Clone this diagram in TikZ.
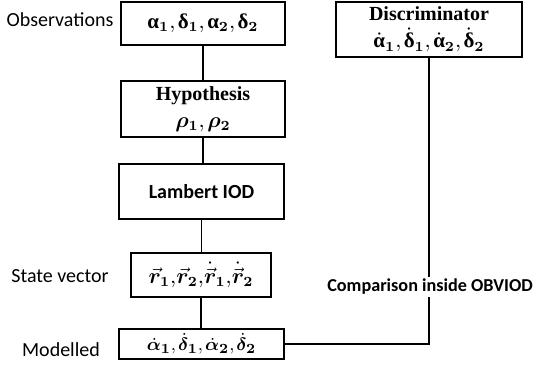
\documentclass[tikz,border=0pt]{standalone}
\usepackage{amsmath}
\usepackage{amssymb}
\usepackage{bm}
\usepackage[no-math]{fontspec}
\setmainfont{Carlito}
\newfontfamily\tnr{Liberation Serif}
\usetikzlibrary{positioning}

\tikzset{
  box/.style={draw, line width=0.6pt, inner sep=0pt, align=center,
    font=\fontsize{10.5}{13.5}\selectfont},
  side/.style={font=\fontsize{10}{12}\selectfont},
  link/.style={line width=0.6pt},
}
\newcommand{\ga}{\text{\tnr\bfseries α}}
\newcommand{\gd}{\text{\tnr\bfseries δ}}
\newcommand{\sep}{\mathbf{,}\mkern2mu}

\begin{document}
\begin{tikzpicture}[x=0.5pt,y=-0.5pt]
		\useasboundingbox (0,0) rectangle (534,367);
		
		\node[box, minimum width=82pt, minimum height=21.5pt] (obs) at (203,23.5)
			{$\ga_{\mathbf1}\sep\gd_{\mathbf1}\sep\ga_{\mathbf2}\sep\gd_{\mathbf2}$};
		\node[box, minimum width=82pt, minimum height=28pt] (hyp) at (203,109)
			{{\tnr\bfseries\fontsize{10}{13}\selectfont Hypothesis}\\ $\bm{\rho}_{\mathbf1}\sep\bm{\rho}_{\mathbf2}$};
		\node[box, minimum width=82.5pt, minimum height=27.5pt] (lam) at (201.5,191.5)
			{\bfseries\fontsize{10}{12}\selectfont Lambert IOD};
		\node[box, minimum width=70pt, minimum height=22pt, font=\fontsize{10.5}{12}\selectfont] (sv) at (201,275)
			{$\vec{\bm r}_{\mathbf1}\mathbf{,}\vec{\bm r}_{\mathbf2}\mathbf{,}\dot{\vec{\bm r}}_{\mathbf1}\mathbf{,}\dot{\vec{\bm r}}_{\mathbf2}$};
		\node[box, minimum width=82.5pt, minimum height=15pt, font=\fontsize{9.5}{11}\selectfont] (mod) at (201.5,344)
			{$\dot{\bm\alpha}_{\mathbf1}\sep\dot{\bm\delta}_{\mathbf1}\sep\dot{\bm\alpha}_{\mathbf2}\sep\dot{\bm\delta}_{\mathbf2}$};
		\node[box, minimum width=93pt, minimum height=27.5pt] (disc) at (429,29.5)
			{{\tnr\bfseries\fontsize{10}{14}\selectfont Discriminator}\\ $\dot{\ga}_{\mathbf1}\sep\dot{\gd}_{\mathbf1}\sep\dot{\ga}_{\mathbf2}\sep\dot{\gd}_{\mathbf2}$};
		
		% labels on the left
		\node[side] (lobs) at (60,20) {Observations};
		\node[side] (lsv) at (60,276) {State vector};
		\node[side] (lmod) at (61,350) {Modelled};
		
		% connectors
		\draw[link] (obs.south) -- (obs.south |- hyp.north);
		\draw[link] (hyp.south) -- (hyp.south |- lam.north);
		\draw[link] (lam.south) -- (lam.south |- sv.north);
		\draw[link] (sv.south) -- (sv.south |- mod.north);
		\draw[link] (mod.east) -| (disc.south);
		
		\node[fill=white, inner sep=1pt, font=\fontsize{9.1}{11}\selectfont\bfseries] (cmp) at (430,287)
			{Comparison inside OBVIOD};
	\end{tikzpicture}
\end{document}
